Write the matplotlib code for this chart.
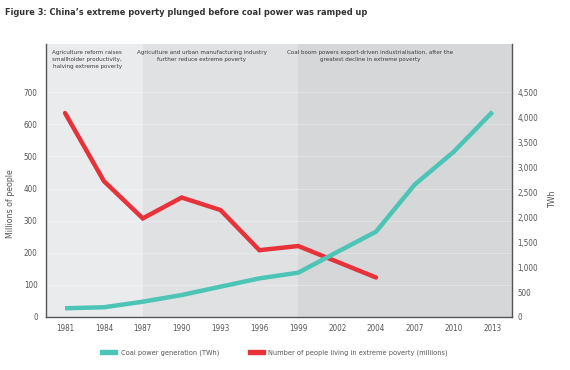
import matplotlib
matplotlib.use("Agg")
import matplotlib.pyplot as plt
from matplotlib.patches import Patch
from matplotlib.ticker import FuncFormatter
from matplotlib import font_manager
from matplotlib.font_manager import FontProperties

# look for a narrow/condensed face; fall back to Liberation Sans
reg_path, bold_path = None, None
for f in font_manager.fontManager.ttflist:
    fn = f.fname.lower()
    if ("narrow" in fn or "condensed" in fn) and "mono" not in fn and "serif" not in fn.replace("sans", ""):
        if f.weight in (400, "normal", "regular") and f.style == "normal" and reg_path is None:
            reg_path = f.fname
        if f.weight in (700, "bold") and f.style == "normal" and bold_path is None:
            bold_path = f.fname

years = ["1981", "1984", "1987", "1990", "1993", "1996", "1999", "2002", "2004", "2007", "2010", "2013"]
coal_twh = [175, 195, 306, 440, 607, 773, 887, 1300, 1707, 2653, 3307, 4107]
poverty_millions = [635, 423, 307, 372, 333, 208, 221, 172, 123]
left_ticks = [0, 100, 200, 300, 400, 500, 600, 700]
right_ticks = [0, 500, 1000, 1500, 2000, 2500, 3000, 3500, 4000, 4500]
phase_texts = [
    "Agriculture reform raises\nsmallholder productivity,\nhalving extreme poverty",
    "Agriculture and urban manufacturing industry\nfurther reduce extreme poverty",
    "Coal boom powers export-driven industrialisation, after the\ngreatest decline in extreme poverty",
]
phase_bounds = ["1987", "1999"]

narrow = reg_path is not None
if narrow:
    fp = lambda size: FontProperties(fname=reg_path, size=size)
else:
    fp = lambda size: FontProperties(family=["Liberation Sans", "DejaVu Sans"], size=size)
if bold_path:
    fpb = lambda size: FontProperties(fname=bold_path, size=size)
else:
    fpb = lambda size: FontProperties(family=["Liberation Sans", "DejaVu Sans"], weight="bold", size=size)
k = 1.0 if narrow else 0.9

teal = "#4cc4b6"
red = "#e8323a"
txt = "#555555"

fig = plt.figure(figsize=(5.7, 3.7), dpi=100)
ax = fig.add_axes([46 / 570, 53 / 370, (512 - 46) / 570, (317 - 44) / 370])
ax2 = ax.twinx()

x = list(range(len(years)))
xmin, xmax = -0.49, 11.5
b1 = years.index(phase_bounds[0])
b2 = years.index(phase_bounds[1])
ax.axvspan(xmin, b1, color="#eaebed", zorder=0, lw=0)
ax.axvspan(b1, b2, color="#e0e1e3", zorder=0, lw=0)
ax.axvspan(b2, xmax, color="#d6d7d9", zorder=0, lw=0)
for t in left_ticks[1:]:
    ax.axhline(t, color="white", lw=0.6, alpha=0.3, zorder=0.5)

ax.plot(x[:len(poverty_millions)], poverty_millions, color=red, lw=3.2,
        solid_capstyle="round", solid_joinstyle="miter", zorder=3)
ax2.plot(x, coal_twh, color=teal, lw=3.2, solid_capstyle="butt",
         solid_joinstyle="miter", zorder=3)

ax.set_xlim(xmin, xmax)
ax.set_ylim(0, 850)
ax2.set_ylim(0, 850 * 4500 / 700)
ax.set_xticks(x)
ax.set_xticklabels(years)
ax.set_yticks(left_ticks)
ax2.set_yticks(right_ticks)
ax2.yaxis.set_major_formatter(FuncFormatter(lambda v, p: f"{int(v):,}"))

for a in (ax, ax2):
    a.tick_params(length=0, colors=txt)
    for s in a.spines.values():
        s.set_visible(False)
ax.tick_params(axis="y", pad=6)
ax.tick_params(axis="x", pad=5)
ax2.tick_params(axis="y", pad=4)
for lab in ax.get_xticklabels() + ax.get_yticklabels() + ax2.get_yticklabels():
    lab.set_fontproperties(fp(5.8 * k))
ax.spines['left'].set_visible(True)
ax.spines['bottom'].set_visible(True)
ax2.spines['right'].set_visible(True)
for s in (ax.spines['left'], ax.spines['bottom'], ax2.spines['right']):
    s.set_color("#555555")
    s.set_linewidth(1.0)
ax2.set_zorder(ax.get_zorder() + 1)
ax2.patch.set_visible(False)
ax.set_ylabel("Millions of people", fontproperties=fp(6.3 * k), color=txt)
ax2.set_ylabel("TWh", fontproperties=fp(6.3 * k), color=txt)
ax.yaxis.set_label_coords(-0.067, 0.414)
ax2.yaxis.set_label_coords(1.077, 0.43)

for xc, t in zip([0.57, 3.52, 7.84], phase_texts):
    ax.text(xc, 0.978, t, transform=ax.get_xaxis_transform(), ha="center", va="top",
            fontproperties=fp(4.5 * k), color="#3c3c3c", linespacing=1.45)

fig.text(0.009, 0.967, "Figure 3: China\u2019s extreme poverty plunged before coal power was ramped up",
         fontproperties=fpb(6.6 * k), color="#333333", ha="left", va="center")

handles = [Patch(color=teal), Patch(color=red)]
labels = ["Coal power generation (TWh)", "Number of people living in extreme poverty (millions)"]
fig.legend(handles, labels, loc="center left", bbox_to_anchor=(100 / 570, 17 / 370), ncol=2, frameon=False,
           prop=fp(5.3 * k), handlelength=2.3, handleheight=0.55, columnspacing=3.9, handletextpad=0.5,
           borderpad=0, borderaxespad=0, labelcolor=txt)

fig.savefig("out.png", dpi=100)
